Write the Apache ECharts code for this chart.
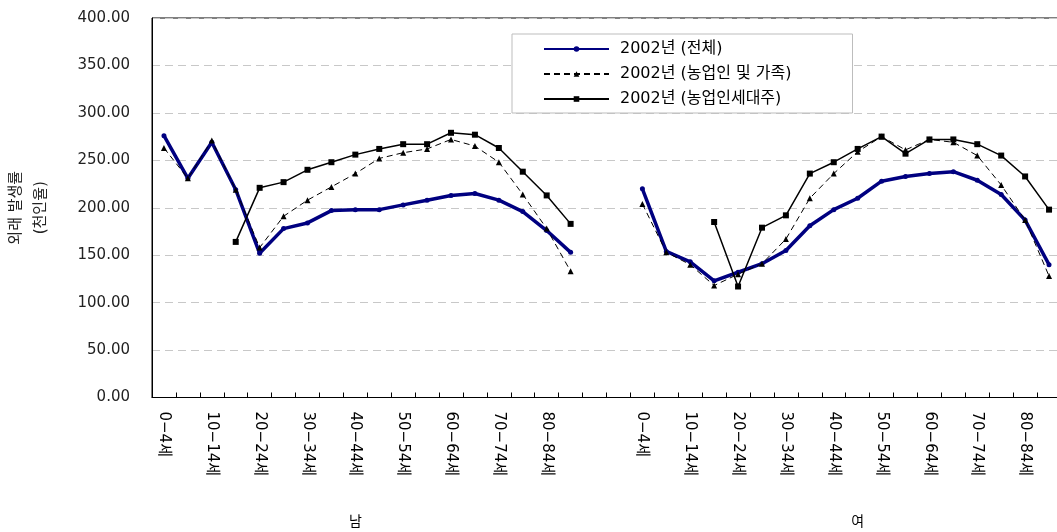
<!DOCTYPE html>
<html><head><meta charset="utf-8">
<script src="https://cdn.jsdelivr.net/npm/echarts@6/dist/echarts.min.js"></script>
<style>html,body{margin:0;padding:0;background:#fff}#c{width:1057px;height:532px}</style>
</head><body><div id="c"></div>
<script>
// ---- data ----
const ageGroups = ['0−4세','5−9세','10−14세','15−19세','20−24세','25−29세','30−34세','35−39세','40−44세','45−49세','50−54세','55−59세','60−64세','65−69세','70−74세','75−79세','80−84세','85세 이상'];
const sexGroups = ['남', '여'];
const seriesNames = ['2002년 (전체)', '2002년 (농업인 및 가족)', '2002년 (농업인세대주)'];
const maleTotal   = [276, 231, 269, 219, 152, 178, 184, 197, 198, 198, 203, 208, 213, 215, 208, 196, 176, 153];
const maleFarm    = [263, 231, 271, 219, 158, 191, 208, 222, 236, 252, 258, 262, 272, 265, 248, 214, 178, 133];
const maleHead    = [null, null, null, 164, 221, 227, 240, 248, 256, 262, 267, 267, 279, 277, 263, 238, 213, 183];
const femaleTotal = [220, 154, 143, 123, 132, 141, 155, 181, 198, 210, 228, 233, 236, 238, 229, 214, 187, 140];
const femaleFarm  = [204, 153, 140, 118, 130, 141, 167, 210, 236, 259, 275, 261, 272, 269, 255, 224, 187, 128];
const femaleHead  = [null, null, null, 185, 117, 179, 192, 236, 248, 262, 275, 257, 272, 272, 267, 255, 233, 198];
const yMin = 0, yMax = 400, yStep = 50;

// ---- build combined category axis: male block, 2 empty slots, female block ----
const gapSlots = ['', ''];
const categories = ageGroups.concat(gapSlots, ageGroups);
const joinBlocks = (m, f) => m.concat(gapSlots.map(() => null), f);
const femaleStart = ageGroups.length + gapSlots.length;
const groupLabelIdx = [Math.floor((ageGroups.length - 1) / 2), femaleStart + Math.ceil((ageGroups.length - 1) / 2)];
const groupCats = categories.map((_, i) => {
  const k = groupLabelIdx.indexOf(i);
  return k >= 0 ? sexGroups[k] : '';
});

const FONT = "'DejaVu Sans','Noto Sans CJK KR',sans-serif";
const chart = echarts.init(document.getElementById('c'), null, {renderer: 'canvas'});
chart.setOption({
  animation: false,
  textStyle: {fontFamily: FONT},
  grid: {left: 152, right: -4, top: 18, bottom: 134.5, show: true, borderColor: '#000', borderWidth: 1,
         backgroundColor: 'transparent', containLabel: false, outerBoundsMode: 'none'},
  legend: {
    orient: 'vertical', left: 512, top: 34,
    backgroundColor: '#fff', borderColor: '#bdbdbd', borderWidth: 1,
    padding: [7, 61, 6, 31],
    itemWidth: 65, itemHeight: 7, itemGap: 9,
    textStyle: {fontSize: 16, color: '#000', lineHeight: 16, fontFamily: FONT, padding: [0, 0, 0, 6]},
    data: seriesNames
  },
  xAxis: [{
    type: 'category', data: categories, boundaryGap: true,
    axisLine: {lineStyle: {color: '#000', width: 1}},
    axisTick: {show: true, inside: true, length: 5, interval: 0, lineStyle: {color: '#000'}},
    axisLabel: {interval: 1, rotate: -90, margin: 14, fontSize: 15, color: '#000', fontFamily: FONT}
  }, {
    type: 'category', data: groupCats, position: 'bottom', offset: 110,
    axisLine: {show: false}, axisTick: {show: false}, splitLine: {show: false},
    axisLabel: {interval: 0, fontSize: 14, color: '#000', margin: 8, fontFamily: FONT}
  }],
  yAxis: {
    type: 'value', min: yMin, max: yMax, interval: yStep,
    axisLine: {show: true, lineStyle: {color: '#000'}},
    axisTick: {show: false},
    axisLabel: {formatter: v => v.toFixed(2), fontSize: 15, color: '#222', margin: 22, fontFamily: FONT},
    splitLine: {lineStyle: {color: '#c8c8c8', type: [8, 5], width: 1}},
    name: '외래 발생률\n(천인율)', nameLocation: 'middle', nameRotate: 90, nameGap: 98,
    nameTextStyle: {fontSize: 15, color: '#222', lineHeight: 25, fontFamily: FONT}
  },
  series: [{
    name: seriesNames[0], type: 'line', data: joinBlocks(maleTotal, femaleTotal),
    symbol: 'circle', symbolSize: 5, showAllSymbol: true, connectNulls: false,
    lineStyle: {color: '#000080', width: 3.5}, itemStyle: {color: '#000080'}
  }, {
    name: seriesNames[1], type: 'line', data: joinBlocks(maleFarm, femaleFarm),
    symbol: 'triangle', symbolSize: 6, showAllSymbol: true, connectNulls: false,
    lineStyle: {color: '#000', width: 1, type: [6, 4]}, itemStyle: {color: '#000'}
  }, {
    name: seriesNames[2], type: 'line', data: joinBlocks(maleHead, femaleHead),
    symbol: 'rect', symbolSize: 6, showAllSymbol: true, connectNulls: false,
    lineStyle: {color: '#000', width: 1.5}, itemStyle: {color: '#000'}
  }]
});
</script></body></html>
